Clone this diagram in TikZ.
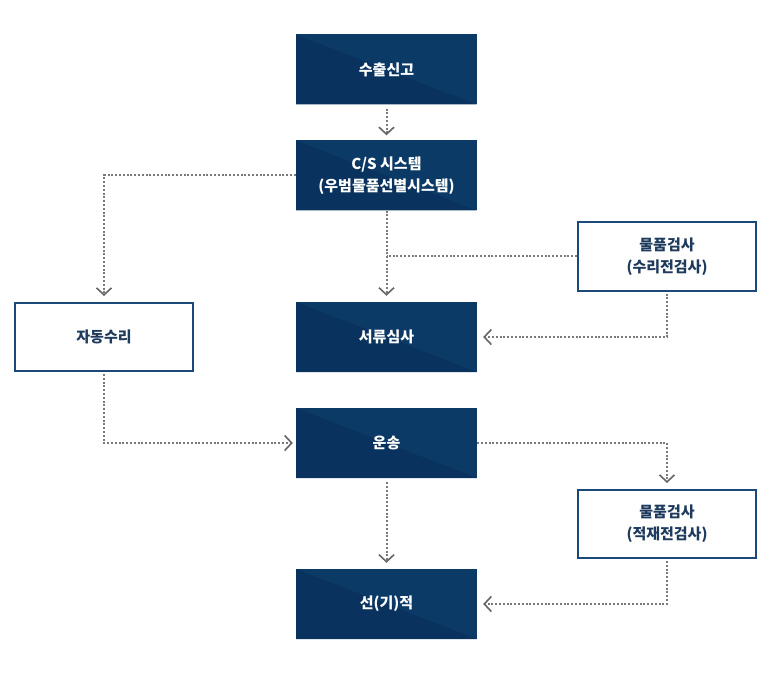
\documentclass[tikz,border=0pt]{standalone}
\usepackage{fontspec}
\setmainfont{Noto Sans CJK KR}
\usetikzlibrary{arrows.meta}

\definecolor{navy}{HTML}{0C3A66}
\definecolor{navydark}{HTML}{09335E}
\definecolor{boxline}{HTML}{1A4A7A}
\definecolor{boxtext}{HTML}{1E3A5C}
\definecolor{dotgray}{HTML}{7A7A7A}
\definecolor{tipgray}{HTML}{666666}

\begin{document}
\begin{tikzpicture}[
		x=1pt, y=-1pt,
		dark/.style={
				fill=navy,
				text=white,
				minimum width=181pt,
				minimum height=70pt,
				inner sep=0pt,
				align=center,
				font=\bfseries\fontsize{15}{22}\selectfont,
				path picture={
						\fill[navydark] (path picture bounding box.north west) --
						(path picture bounding box.south east) --
						(path picture bounding box.south west) -- cycle;
					},
			},
		plain/.style={
				draw=boxline,
				line width=2pt,
				fill=white,
				text=boxtext,
				minimum width=178pt,
				minimum height=68pt,
				inner sep=0pt,
				align=center,
				font=\bfseries\fontsize{15}{22}\selectfont,
			},
		dots/.style={
				draw=dotgray,
				line width=2pt,
				dash pattern=on 2pt off 1.8pt,
			},
		link/.style={
				dots,
				-{Straight Barb[length=7pt, width=15pt, line width=1.6pt, color=tipgray]},
				shorten >=5pt,
			},
	]
	\useasboundingbox (0,0) rectangle (775,700);

	\node[dark] (decl) at (386.5,69.5) {수출신고};
	\node[dark] (cs) at (386.5,175.5) {C/S 시스템\\(우범물품선별시스템)};
	\node[dark] (doc) at (386.5,337) {서류심사};
	\node[dark] (ship) at (386.5,443) {운송};
	\node[dark] (load) at (386.5,604) {선(기)적};
	\node[plain] (auto) at (104,337) {자동수리};
	\node[plain] (insp1) at (667,256.5) {물품검사\\(수리전검사)};
	\node[plain] (insp2) at (667,524) {물품검사\\(적재전검사)};

	\draw[link, shorten <=4pt] (decl) -- (cs);
	\draw[link, shorten >=6pt] (cs.west) -| (auto);
	\draw[link, shorten >=6pt] (cs) -- (doc);
	\draw[dots] (insp1.west) -- (insp1.west -| doc);
	\draw[link, shorten >=6pt, shorten <=2pt] (insp1) |- (doc.east);
	\draw[link, shorten >=3pt, shorten <=2pt] (auto) |- (ship.west);
	\draw[link, shorten >=6pt] (ship.east) -| (insp2);
	\draw[link, shorten >=6pt, shorten <=4pt] (ship) -- (load);
	\draw[link, shorten >=6pt, shorten <=2pt] (insp2) |- (load.east);
\end{tikzpicture}
\end{document}
